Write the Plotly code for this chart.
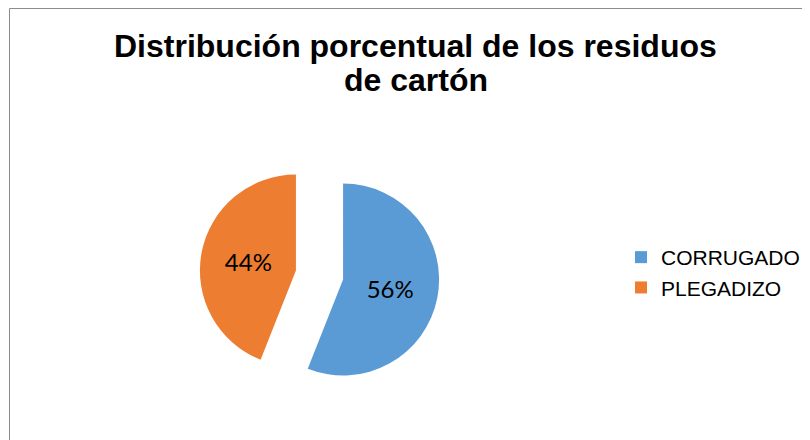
import plotly.graph_objects as go

# data
categories = ["CORRUGADO", "PLEGADIZO"]
percentages = [56, 44]
slice_colors = ["#5b9bd5", "#ed7d31"]
title_lines = ["Distribución porcentual de los residuos", "de cartón"]

W, H = 810, 440

fig = go.Figure()

fig.add_trace(go.Pie(
    labels=categories,
    values=percentages,
    sort=False,
    direction="clockwise",
    rotation=0,
    pull=[0.25, 0.25],
    marker=dict(colors=slice_colors, line=dict(width=0)),
    texttemplate="%{percent:.0%}",
    textposition="inside",
    insidetextfont=dict(family="Lato, Open Sans, sans-serif", size=24, color="#000000"),
    domain=dict(x=[191.5 / W, 431.5 / W], y=[1 - 387 / H, 1 - 147 / H]),
    hoverinfo="label+percent",
))

title_font = dict(family="Liberation Sans, Arial, sans-serif", size=32, color="#000000",
                  weight="bold")

fig.update_layout(
    width=W,
    height=H,
    margin=dict(l=0, r=0, t=0, b=0),
    paper_bgcolor="white",
    plot_bgcolor="white",
    annotations=[
        dict(text=title_lines[0], xref="paper", yref="paper", x=408 / W, y=1 - 38 / H,
             xanchor="center", yanchor="middle", showarrow=False, font=title_font),
        dict(text=title_lines[1], xref="paper", yref="paper", x=408 / W, y=1 - 72 / H,
             xanchor="center", yanchor="middle", showarrow=False, font=title_font),
    ],
    legend=dict(
        x=613 / W,
        xanchor="left",
        y=1 - 264.5 / H,
        yanchor="middle",
        font=dict(family="Liberation Sans, Arial, sans-serif", size=21, color="#000000"),
        bgcolor="rgba(0,0,0,0)",
        traceorder="normal",
    ),
    shapes=[dict(
        type="rect", xref="paper", yref="paper",
        x0=1.5 / W, x1=1.02, y0=-0.02, y1=1 - 0.5 / H,
        line=dict(color="#8c8c8c", width=1),
        fillcolor="rgba(0,0,0,0)",
        layer="above",
    )],
)

fig.write_html("out.html")
